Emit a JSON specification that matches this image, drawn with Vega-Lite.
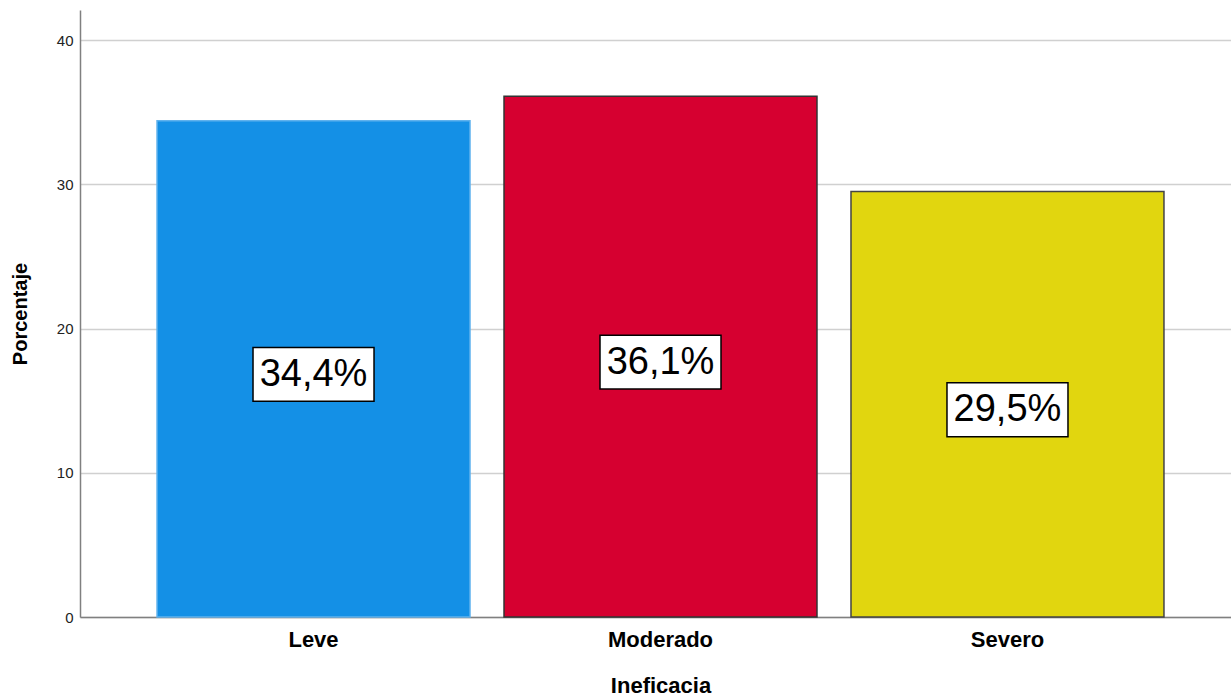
{
  "$schema": "https://vega.github.io/schema/vega-lite/v6.json",
  "autosize": "none",
  "width": 1161,
  "height": 607,
  "padding": {"left": 80, "top": 10, "right": 0, "bottom": 79},
  "background": "white",
  "config": {
    "view": {"stroke": null},
    "font": "Liberation Sans"
  },
  "data": {
    "values": [
      {"nivel": "Leve", "porcentaje": 34.4, "etiqueta": "34,4%"},
      {"nivel": "Moderado", "porcentaje": 36.1, "etiqueta": "36,1%"},
      {"nivel": "Severo", "porcentaje": 29.5, "etiqueta": "29,5%"}
    ]
  },
  "transform": [{"calculate": "datum.porcentaje / 2", "as": "mitad"}],
  "encoding": {
    "x": {
      "field": "nivel",
      "type": "nominal",
      "sort": null,
      "scale": {"paddingInner": 0.098, "paddingOuter": 0.222},
      "axis": {
        "title": "Ineficacia",
        "titleFont": "Liberation Sans",
        "titleFontSize": 22,
        "titleFontWeight": "bold",
        "titleColor": "#000000",
        "titlePadding": 25,
        "labelAngle": 0,
        "labelFont": "Liberation Sans",
        "labelFontSize": 22,
        "labelFontWeight": "bold",
        "labelColor": "#000000",
        "labelPadding": 12,
        "ticks": false,
        "domainColor": "#808080",
        "domainWidth": 1.5,
        "grid": false
      }
    }
  },
  "layer": [
    {
      "mark": {"type": "bar", "strokeWidth": 1.5},
      "encoding": {
        "y": {
          "field": "porcentaje",
          "type": "quantitative",
          "scale": {"domain": [0, 42.08], "nice": false},
          "axis": {
            "title": "Porcentaje",
            "titleFont": "Liberation Sans",
            "titleFontSize": 20,
            "titleFontWeight": "bold",
            "titleColor": "#000000",
            "titlePadding": 26,
            "values": [0, 10, 20, 30, 40],
            "labelFont": "Liberation Sans",
            "labelFontSize": 15,
            "labelColor": "#222222",
            "labelPadding": 7,
            "ticks": false,
            "domainColor": "#808080",
            "domainWidth": 1.5,
            "grid": true,
            "gridColor": "#d0d0d0",
            "gridWidth": 1.5
          }
        },
        "color": {
          "field": "nivel",
          "type": "nominal",
          "scale": {"domain": ["Leve", "Moderado", "Severo"], "range": ["#1490E6", "#D60030", "#E1D60F"]},
          "legend": null
        },
        "stroke": {
          "field": "nivel",
          "type": "nominal",
          "scale": {"domain": ["Leve", "Moderado", "Severo"], "range": ["#5FB2EE", "#333333", "#444444"]},
          "legend": null
        }
      }
    },
    {
      "mark": {
        "type": "point",
        "shape": "M-1,-0.446H1V0.446H-1Z",
        "size": 14641,
        "filled": true,
        "fill": "#ffffff",
        "stroke": "#000000",
        "strokeWidth": 1.5,
        "opacity": 1,
        "yOffset": 5.5
      },
      "encoding": {
        "y": {"field": "mitad", "type": "quantitative", "scale": {"domain": [0, 42.08], "nice": false}}
      }
    },
    {
      "mark": {
        "type": "text",
        "font": "Liberation Sans",
        "fontSize": 38,
        "color": "#000000",
        "baseline": "middle",
        "align": "center",
        "yOffset": 6
      },
      "encoding": {
        "y": {"field": "mitad", "type": "quantitative", "scale": {"domain": [0, 42.08], "nice": false}},
        "text": {"field": "etiqueta"}
      }
    }
  ]
}
